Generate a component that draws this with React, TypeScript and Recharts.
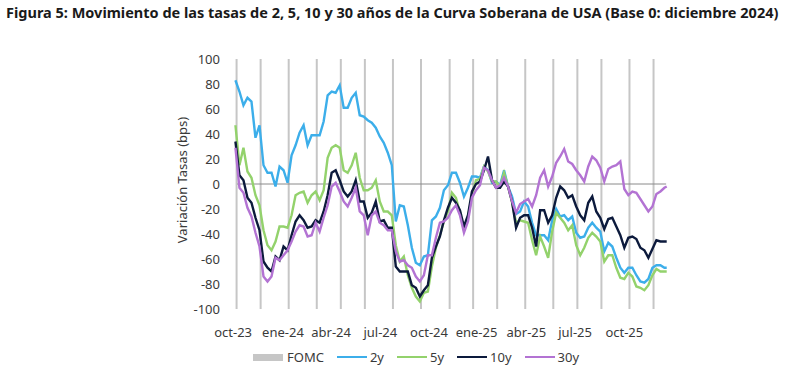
import React from "react";
import { ComposedChart, Line, XAxis, YAxis, ReferenceLine } from "recharts";

const DAY = 86400000;
const utc = (s: string) => {
  const [y, m, d] = s.split("-").map(Number);
  return Date.UTC(y, m - 1, d);
};

const titleText =
  "Figura 5: Movimiento de las tasas de 2, 5, 10 y 30 años de la Curva Soberana de USA (Base 0: diciembre 2024)";
const yAxisTitle = "Variación Tasas (bps)";

// weekly observations (first week, last observation)
const firstWeek = "2023-10-30";
const lastDate = "2025-11-21";
const domainStart = "2023-10-24";
const domainEnd = "2025-11-25";
const zeroLineStart = "2023-11-02";
const zeroLineEnd = "2025-11-20";

const y2 = [
  83, 74, 63, 69, 66, 37, 47, 15, 9, 9, -2, 14, 11, 1, 23, 31, 41, 47, 31, 39, 39,
  39, 50, 71, 74, 73, 79, 61, 61, 69, 73, 55, 54, 51, 49, 45, 38, 33, 25, 15, -30, -17, -18,
  -33, -51, -63, -65, -58, -57, -29, -26, -19, -5, -1, 9, 9, 1, -10, -3, 6, 6, 5, 14, 11, 1,
  2, -1, 11, -2, -10, -24, -22, -14, -18, -31, -41, -41, -41, -45, -29, -20, -26, -25, -29, -26, -39, -43,
  -42, -35, -31, -35, -38, -54, -47, -50, -59, -67, -71, -67, -67, -73, -78, -79, -76, -67, -65, -65, -67, -67,
];
const y5 = [
  47, 15, 29, 10, 5, -9, -17, -37, -49, -53, -46, -34, -34, -35, -25, -9, -7, -6, -15, -9, -6,
  -13, -5, 21, 29, 31, 29, 11, 9, 15, 25, 5, -5, -5, -3, 3, -14, -22, -22, -25, -49, -62, -58,
  -73, -83, -90, -94, -87, -86, -66, -51, -41, -30, -22, -7, -11, -23, -37, -27, -9, 3, 4, 14, 10, 2,
  2, -2, 9, -2, -15, -31, -29, -30, -31, -45, -57, -42, -50, -59, -38, -23, -27, -31, -37, -33, -49, -57,
  -51, -43, -39, -42, -46, -62, -57, -57, -67, -75, -76, -71, -74, -82, -83, -85, -81, -73, -68, -70, -70, -70,
];
const y10 = [
  34, 7, 3, -11, -15, -27, -37, -62, -67, -70, -58, -61, -50, -53, -41, -30, -25, -29, -35, -34, -29,
  -31, -22, -9, 9, 11, 3, -6, -10, -6, 3, -14, -14, -27, -23, -14, -30, -29, -35, -35, -66, -70, -70,
  -70, -81, -83, -90, -85, -81, -59, -50, -42, -29, -19, -11, -15, -21, -34, -25, -6, 0, 2, 11, 22, 3,
  -3, -3, 2, -2, -14, -35, -27, -25, -25, -35, -50, -21, -21, -31, -25, -11, -2, -5, -11, -9, -18, -25,
  -29, -15, -10, -22, -27, -36, -28, -27, -34, -41, -51, -43, -42, -44, -51, -53, -59, -52, -45, -46, -46, -46,
];
const y30 = [
  29, -3, -7, -19, -26, -39, -50, -74, -78, -74, -59, -61, -57, -53, -46, -38, -33, -34, -42, -41, -31,
  -38, -27, -17, -2, 1, -6, -14, -18, -11, -3, -22, -25, -41, -25, -22, -31, -33, -37, -37, -54, -62, -61,
  -65, -67, -74, -78, -73, -57, -57, -43, -31, -30, -27, -21, -17, -25, -39, -30, -11, -5, -1, 13, 11, 3,
  -3, -1, 5, -2, -14, -23, -16, -14, -12, -18, -9, 5, 11, -2, 6, 17, 22, 28, 18, 16, 11, 7,
  2, 14, 22, 19, 13, 2, 12, 14, 15, 18, -4, -9, -6, -7, -12, -17, -22, -18, -8, -6, -3, -2,
];

const fomcDates = [
  "2023-11-01", "2023-12-13", "2024-01-31", "2024-03-20", "2024-05-01", "2024-06-12",
  "2024-07-31", "2024-09-18", "2024-11-07", "2024-12-18", "2025-01-29", "2025-03-19",
  "2025-05-07", "2025-06-18", "2025-07-30", "2025-09-17", "2025-10-29",
];

const xTickDates = [
  "2023-10-26", "2024-01-21", "2024-04-14", "2024-07-09", "2024-10-02",
  "2024-12-24", "2025-03-21", "2025-06-14", "2025-09-08",
];
const xTickLabels = ["oct-23", "ene-24", "abr-24", "jul-24", "oct-24", "ene-25", "abr-25", "jul-25", "oct-25"];
const yTicks = [-100, -80, -60, -40, -20, 0, 20, 40, 60, 80, 100];

const series = [
  { key: "y2", name: "2y", color: "#3caeea", values: y2 },
  { key: "y5", name: "5y", color: "#93d26c", values: y5 },
  { key: "y10", name: "10y", color: "#0c1a3c", values: y10 },
  { key: "y30", name: "30y", color: "#b373d3", values: y30 },
];
const fomcName = "FOMC";
const fomcColor = "#c6c6c6";

const rows = y2.map((_, i) => {
  const row: any = {
    t: i === y2.length - 1 ? utc(lastDate) : utc(firstWeek) + i * 7 * DAY,
  };
  series.forEach((s) => (row[s.key] = s.values[i]));
  return row;
});

const tickTs = xTickDates.map(utc);
const tickLabelOf = (v: number) => {
  const idx = tickTs.indexOf(v);
  return idx >= 0 ? xTickLabels[idx] : "";
};

const FONT = '"Noto Sans", "Open Sans", sans-serif';
const tickStyle = { fontSize: 13, fill: "#3a3a3a", fontFamily: FONT };

function LegendRow() {
  return (
    <div
      style={{
        position: "absolute",
        left: 253,
        top: 348,
        display: "flex",
        alignItems: "center",
        fontFamily: FONT,
        fontSize: 13,
        color: "#3a3a3a",
        whiteSpace: "nowrap",
      }}
    >
      <span style={{ display: "inline-block", width: 30, height: 7, background: fomcColor }} />
      <span style={{ marginLeft: 4, marginRight: 13 }}>{fomcName}</span>
      {series.map((s) => (
        <React.Fragment key={s.key}>
          <span style={{ display: "inline-block", width: 30, height: 2, background: s.color }} />
          <span style={{ marginLeft: 3, marginRight: 13 }}>{s.name}</span>
        </React.Fragment>
      ))}
    </div>
  );
}

export default function App() {
  return (
    <div
      style={{
        position: "absolute",
        left: 0,
        top: 0,
        width: 800,
        height: 376,
        background: "#ffffff",
        overflow: "hidden",
        fontFamily: FONT,
      }}
    >
      <div
        style={{
          position: "absolute",
          left: 6,
          top: 2,
          fontSize: 14.5,
          fontWeight: 700,
          color: "#1a1a1a",
          whiteSpace: "nowrap",
        }}
      >
        {titleText}
      </div>
      <div
        style={{
          position: "absolute",
          left: 182,
          top: 180,
          transform: "translate(-50%, -50%) rotate(-90deg)",
          fontSize: 13,
          color: "#3a3a3a",
          whiteSpace: "nowrap",
        }}
      >
        {yAxisTitle}
      </div>
      <div style={{ position: "absolute", left: 0, top: 0 }}>
        <ComposedChart
          width={800}
          height={376}
          data={rows}
          margin={{ top: 59, right: 131, bottom: 0, left: 0 }}
        >
          <XAxis
            type="number"
            dataKey="t"
            domain={[utc(domainStart), utc(domainEnd)]}
            ticks={tickTs}
            tickFormatter={tickLabelOf}
            axisLine={false}
            tickLine={false}
            height={67}
            tickMargin={13}
            tick={tickStyle}
            allowDataOverflow
            interval={0}
          />
          <YAxis
            domain={[-100, 100]}
            ticks={yTicks}
            width={232}
            axisLine={false}
            tickLine={false}
            tickMargin={6}
            tick={tickStyle}
            interval={0}
            allowDataOverflow
          />
          {fomcDates.map((d) => (
            <ReferenceLine
              key={d}
              x={utc(d)}
              stroke={fomcColor}
              strokeWidth={2}
              ifOverflow="extendDomain"
            />
          ))}
          <ReferenceLine
            segment={[
              { x: utc(zeroLineStart), y: 0 },
              { x: utc(zeroLineEnd), y: 0 },
            ]}
            stroke="#8a8a8a"
            strokeWidth={1}
          />
          {series.map((s) => (
            <Line
              key={s.key}
              dataKey={s.key}
              name={s.name}
              stroke={s.color}
              strokeWidth={2.4}
              dot={false}
              activeDot={false}
              type="linear"
              isAnimationActive={false}
            />
          ))}
        </ComposedChart>
      </div>
      <LegendRow />
    </div>
  );
}
